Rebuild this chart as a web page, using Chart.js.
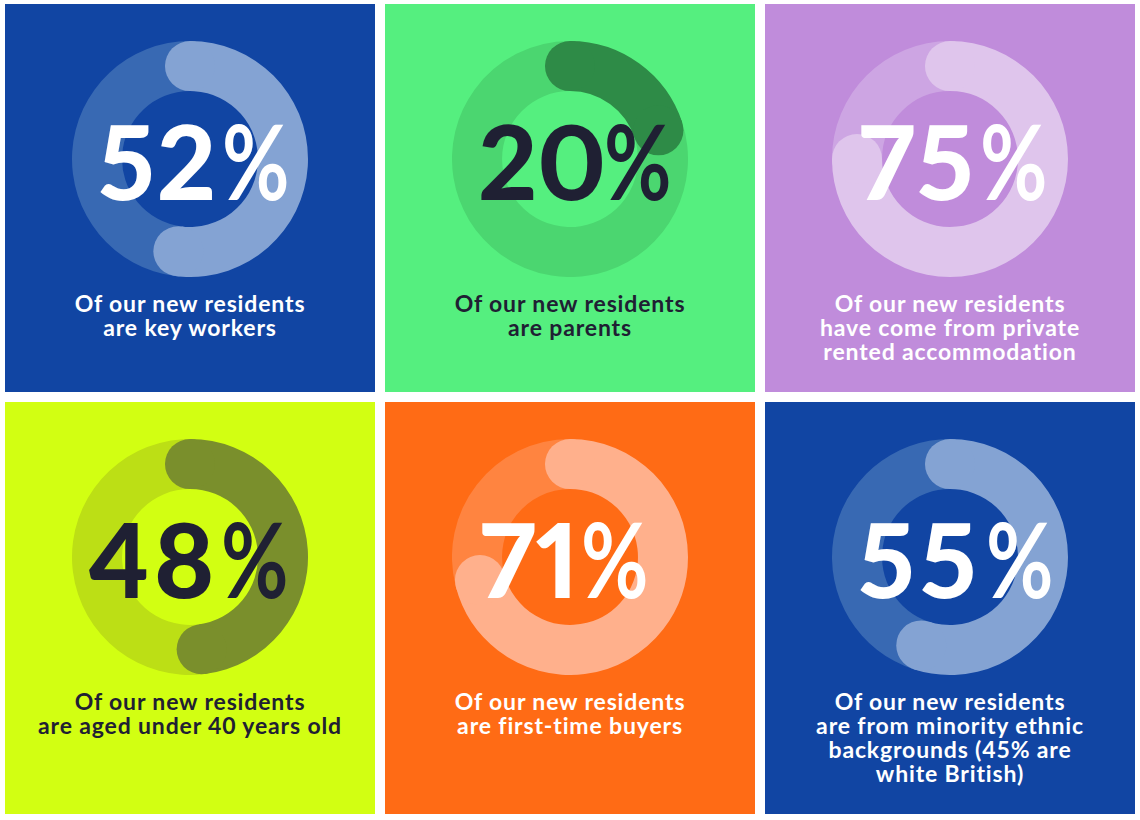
<!DOCTYPE html>
<html>
<head>
<meta charset="utf-8">
<script src="https://cdn.jsdelivr.net/npm/chart.js@4"></script>
<style>
  html, body { margin: 0; padding: 0; background: #fff; }
  body { width: 1140px; height: 820px; position: relative; overflow: hidden; font-family: Lato, sans-serif; }
  .panel { position: absolute; width: 370px; }
  .panel canvas { position: absolute; left: 67px; top: 37px; }
  .big { position: absolute; top: 91px; font-size: 103px; line-height: 130px; font-weight: 900; white-space: nowrap; font-variant-numeric: proportional-nums; font-feature-settings: "pnum"; }
  .big span { display: inline-block; font-weight: 700; letter-spacing: 0; transform: scaleX(0.8); transform-origin: 0 50%; }
  .caption { position: absolute; left: 0; width: 370px; top: 287px; text-align: center; font-size: 23px; line-height: 24px; font-weight: 700; letter-spacing: 0.85px; }
</style>
</head>
<body>
<script>
  const values = [52, 20, 75, 48, 71, 55];
  const captions = [
    ["Of our new residents", "are key workers"],
    ["Of our new residents", "are parents"],
    ["Of our new residents", "have come from private", "rented accommodation"],
    ["Of our new residents", "are aged under 40 years old"],
    ["Of our new residents", "are first-time buyers"],
    ["Of our new residents", "are from minority ethnic", "backgrounds (45% are", "white British)"],
  ];
  const backgrounds = ["#1145a3", "#55ef7f", "#c08cdb", "#d2ff12", "#ff6b15", "#1145a3"];
  const trackColors = ["#3869b3", "#4bd670", "#cda5e3", "#bcdf15", "#ff8440", "#3869b3"];
  const arcColors = ["#84a3d3", "#2e8b47", "#dfc5ec", "#7a8f2c", "#ffb08c", "#84a3d3"];
  const textColors = ["#ffffff", "#1f2033", "#ffffff", "#1f2033", "#ffffff", "#ffffff"];
  const lefts = [5, 385, 765, 5, 385, 765];
  const tops = [4, 4, 4, 402, 402, 402];
  const heights = [388, 388, 388, 412, 412, 412];
  const bigLefts = [93, 93, 94, 83, 95, 93];
  const digitSpacing = [2, 0, 2, 4, 0, 5];
  const percentGaps = [4, -2, 5, 3, 2, 4];

  // round ends on the value slice, centred on the ring at the slice's start and end
  const roundCaps = {
    id: "roundCaps",
    afterDatasetsDraw(chart) {
      const arc = chart.getDatasetMeta(0).data[0];
      const mid = (arc.innerRadius + arc.outerRadius) / 2;
      const r = (arc.outerRadius - arc.innerRadius) / 2;
      const ctx = chart.ctx;
      ctx.save();
      ctx.fillStyle = chart.data.datasets[0].backgroundColor[0];
      [arc.startAngle, arc.endAngle].forEach((a) => {
        ctx.beginPath();
        ctx.arc(arc.x + mid * Math.cos(a), arc.y + mid * Math.sin(a), r, 0, Math.PI * 2);
        ctx.fill();
      });
      ctx.restore();
    },
  };

  values.forEach((value, i) => {
    const panel = document.createElement("div");
    panel.className = "panel";
    panel.style.left = lefts[i] + "px";
    panel.style.top = tops[i] + "px";
    panel.style.height = heights[i] + "px";
    panel.style.background = backgrounds[i];
    panel.style.color = textColors[i];

    const canvas = document.createElement("canvas");
    canvas.width = 236;
    canvas.height = 236;
    canvas.style.width = "236px";
    canvas.style.height = "236px";
    panel.appendChild(canvas);

    const big = document.createElement("div");
    big.className = "big";
    big.style.left = bigLefts[i] + "px";
    big.style.letterSpacing = digitSpacing[i] + "px";
    big.innerHTML = value + '<span style="margin-left:' + percentGaps[i] + 'px">%</span>';
    panel.appendChild(big);

    const caption = document.createElement("div");
    caption.className = "caption";
    caption.innerHTML = captions[i].join("<br>");
    panel.appendChild(caption);

    document.body.appendChild(panel);

    new Chart(canvas, {
      type: "doughnut",
      data: {
        labels: ["Share", "Rest"],
        datasets: [{
          data: [value, 100 - value],
          backgroundColor: [arcColors[i], trackColors[i]],
          borderWidth: 0,
        }],
      },
      options: {
        responsive: false,
        animation: false,
        cutout: "57.6%",
        layout: { padding: 0 },
        plugins: { legend: { display: false }, tooltip: { enabled: false } },
      },
      plugins: [roundCaps],
    });
  });
</script>
</body>
</html>
